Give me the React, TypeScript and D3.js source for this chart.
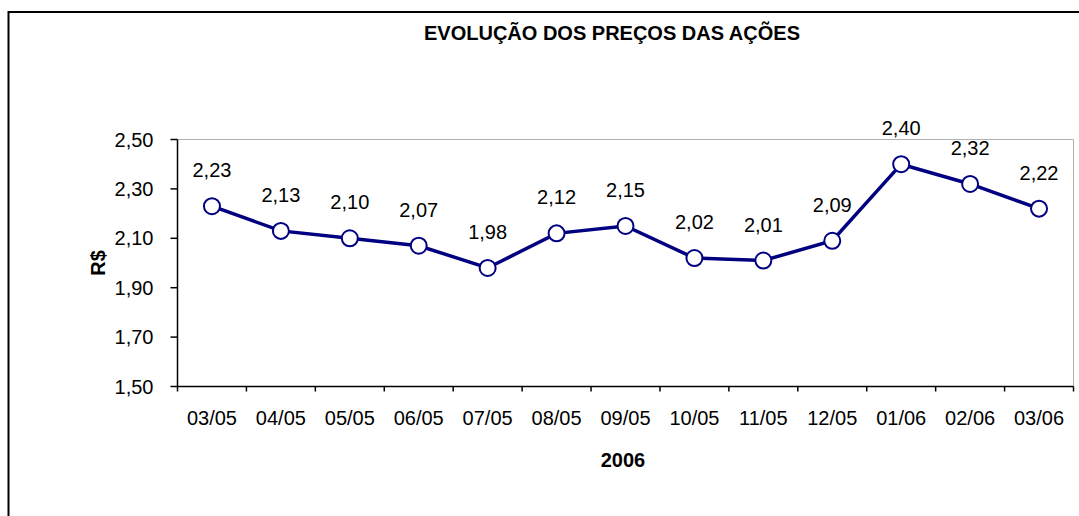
import React from "react";
import * as d3 from "d3";

const categories = ["03/05", "04/05", "05/05", "06/05", "07/05", "08/05", "09/05", "10/05", "11/05", "12/05", "01/06", "02/06", "03/06"];
const prices = [2.23, 2.13, 2.10, 2.07, 1.98, 2.12, 2.15, 2.02, 2.01, 2.09, 2.40, 2.32, 2.22];
const yTicks = [1.5, 1.7, 1.9, 2.1, 2.3, 2.5];
const title = "EVOLUÇÃO DOS PREÇOS DAS AÇÕES";
const xTitle = "2006";
const yTitle = "R$";

const W = 1079, H = 516;
const L = 177.5, R = 1073.5, T = 139.5, B = 386.5;
const font = "Arial, 'Liberation Sans', sans-serif";
const navy = "#000080";

export default function App() {
  const x = d3.scaleBand<string>().domain(categories).range([L, R]);
  const y = d3.scaleLinear().domain([1.5, 2.5]).range([B, T]);
  const fmt = (v: number) => v.toFixed(2).replace(".", ",");
  const cx = (c: string) => (x(c) ?? 0) + x.bandwidth() / 2;
  const line = d3.line<number>().x((_, i) => cx(categories[i])).y((d) => y(d));
  const boundaries = categories.map((c) => x(c) ?? 0).concat([R]);

  return (
    <svg width={W} height={H} style={{ position: "absolute", left: 0, top: 0, display: "block", background: "#fff" }} fontFamily={font}>
      <rect x={8.5} y={12} width={1200} height={700} fill="#fff" stroke="#000" strokeWidth={2} />
      <text x={612} y={40} textAnchor="middle" fontSize={20} fontWeight="bold">{title}</text>
      <path d={`M${L},${T}H${R}V${B}`} fill="none" stroke="#b0b0b0" strokeWidth={1} />
      <line x1={L} x2={L} y1={T} y2={B} stroke="#000" strokeWidth={1.5} />
      <line x1={L} x2={R} y1={B} y2={B} stroke="#000" strokeWidth={1.5} />
      {yTicks.map((t) => (
        <g key={t}>
          <line x1={L - 7} x2={L} y1={y(t)} y2={y(t)} stroke="#000" strokeWidth={1.5} />
          <text x={L - 24} y={y(t)} dy="0.35em" textAnchor="end" fontSize={20}>{fmt(t)}</text>
        </g>
      ))}
      {boundaries.map((b, i) => (
        <line key={i} x1={b} x2={b} y1={B} y2={B + 5} stroke="#000" strokeWidth={1.5} />
      ))}
      {categories.map((c) => (
        <text key={c} x={cx(c)} y={B + 38} textAnchor="middle" fontSize={20}>{c}</text>
      ))}
      <text x={623} y={467} textAnchor="middle" fontSize={20} fontWeight="bold">{xTitle}</text>
      <text transform={`translate(105,${(T + B) / 2}) rotate(-90)`} textAnchor="middle" fontSize={20} fontWeight="bold">{yTitle}</text>
      <path d={line(prices) ?? ""} fill="none" stroke={navy} strokeWidth={3.5} />
      {prices.map((v, i) => (
        <circle key={i} cx={cx(categories[i])} cy={y(v)} r={8} fill="#fff" stroke={navy} strokeWidth={2} />
      ))}
      {prices.map((v, i) => (
        <text key={"l" + i} x={cx(categories[i])} y={y(v) - 29} textAnchor="middle" fontSize={20}>{fmt(v)}</text>
      ))}
    </svg>
  );
}
